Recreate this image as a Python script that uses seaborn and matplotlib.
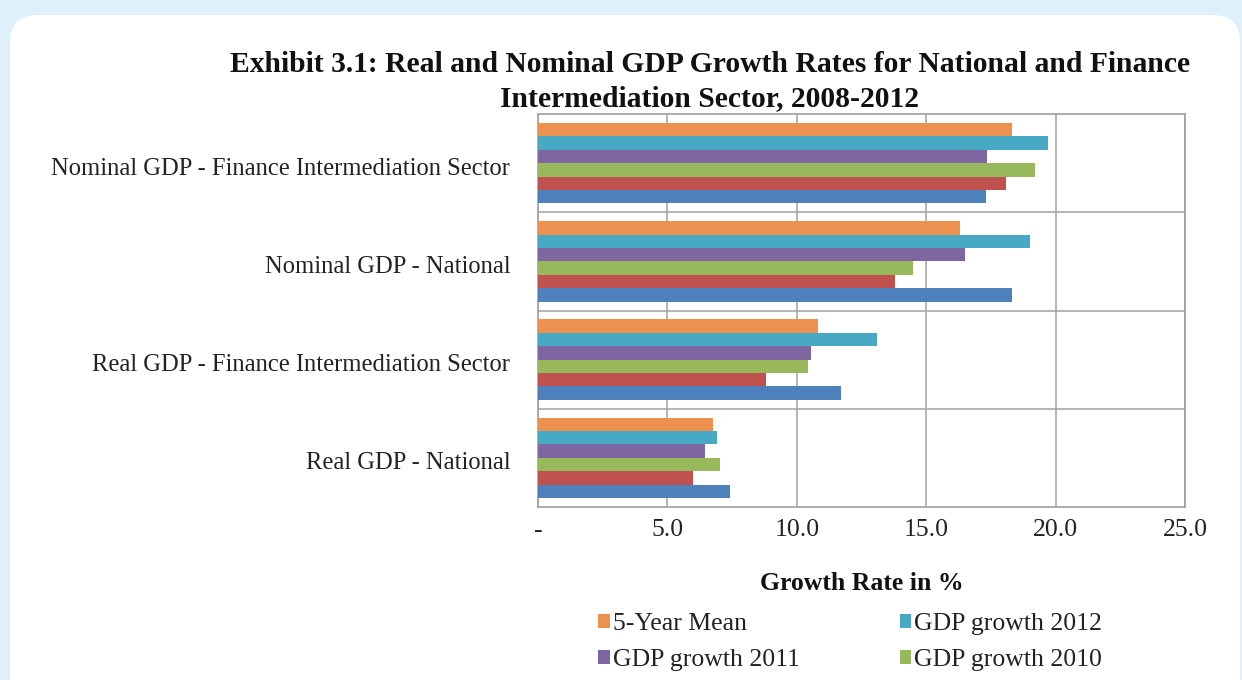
import matplotlib
matplotlib.use("Agg")
import matplotlib.pyplot as plt
import matplotlib.transforms as mtransforms
from matplotlib.patches import FancyBboxPatch, Patch
from matplotlib.ticker import FixedLocator, NullFormatter
import numpy as np
import pandas as pd
import seaborn as sns

# Sectors, top to bottom
categories = [
    "Nominal GDP - Finance Intermediation Sector",
    "Nominal GDP - National",
    "Real GDP - Finance Intermediation Sector",
    "Real GDP - National",
]

# Growth rates in % for each sector (same order as categories)
five_year_mean = [18.3, 16.3, 10.8, 6.75]
growth_2012 = [19.7, 19.0, 13.1, 6.9]
growth_2011 = [17.35, 16.5, 10.55, 6.45]
growth_2010 = [19.2, 14.5, 10.45, 7.05]
growth_2009 = [18.1, 13.8, 8.8, 6.0]
growth_2008 = [17.3, 18.3, 11.7, 7.4]

series_names = ["5-Year Mean", "GDP growth 2012", "GDP growth 2011",
                "GDP growth 2010", "GDP growth 2009", "GDP growth 2008"]
series_colors = ["#EC9150", "#47A9C4", "#7E66A3", "#98B85C", "#BF514E", "#4E80BC"]
# legend entries, filled column by column (row 1: mean, 2012; row 2: 2011, 2010)
legend_shown = ["5-Year Mean", "GDP growth 2011", "GDP growth 2012", "GDP growth 2010"]

x_ticks = [0, 5, 10, 15, 20, 25]
x_tick_labels = ["-", "5.0", "10.0", "15.0", "20.0", "25.0"]

series_values = [five_year_mean, growth_2012, growth_2011,
                 growth_2010, growth_2009, growth_2008]
df = pd.DataFrame(
    [(cat, name, val)
     for name, vals in zip(series_names, series_values)
     for cat, val in zip(categories, vals)],
    columns=["category", "series", "value"],
)

sns.set_style("white")
plt.rcParams["font.family"] = ["Liberation Serif", "DejaVu Serif"]

W, H = 1242, 680
fig = plt.figure(figsize=(W / 100, H / 100), dpi=100)
fig.patch.set_facecolor("#E0F0FA")

# White rounded card behind the chart
card = FancyBboxPatch((10 / W, -40 / H), (1230 / W), (705 / H),
                      boxstyle="round,pad=0,rounding_size=0.022",
                      transform=fig.transFigure, facecolor="white",
                      edgecolor="none", zorder=-5, mutation_aspect=W / H)
fig.patches.append(card)

ax = fig.add_axes([538 / W, 1 - 507 / H, (1185 - 538) / W, (507 - 114) / H])
ax.set_zorder(2)
ax.set_facecolor("white")

sns.barplot(data=df, y="category", x="value", hue="series",
            order=categories, hue_order=series_names,
            palette=series_colors, orient="h", width=0.82,
            saturation=1, errorbar=None, ax=ax, legend=False,
            linewidth=0, zorder=3)

ax.set_xlim(0, 25)
ax.set_ylim(3.5, -0.5)
ax.xaxis.set_major_locator(FixedLocator(x_ticks))
ax.set_xticklabels(x_tick_labels, fontsize=18.5, color="#222222")
ax.yaxis.set_minor_locator(FixedLocator([0.5, 1.5, 2.5]))
ax.yaxis.set_minor_formatter(NullFormatter())
ax.tick_params(axis="y", which="major", length=0, pad=20, labelsize=17.7,
               labelcolor="#222222")
ax.tick_params(axis="y", which="minor", length=6, width=1, color="#999999",
               direction="out")
ax.tick_params(axis="x", which="major", length=6, width=1, color="#999999",
               direction="out", pad=3)

# nudge the category labels slightly down
shift = mtransforms.ScaledTranslation(0, -3 / 100, fig.dpi_scale_trans)
for lbl in ax.get_yticklabels():
    lbl.set_transform(lbl.get_transform() + shift)

ax.grid(axis="x", which="major", color="#A8A8A8", linewidth=1.2, zorder=0)
ax.grid(axis="y", which="minor", color="#A8A8A8", linewidth=1.2, zorder=0)
ax.set_axisbelow(True)
for side in ["left", "right", "top", "bottom"]:
    ax.spines[side].set_visible(True)
    ax.spines[side].set_color("#A0A0A0")
    ax.spines[side].set_linewidth(1.2)

ax.set_ylabel("")
ax.set_xlabel("Growth Rate in %", fontsize=18.5, fontweight="bold",
              color="#111111", labelpad=22)

fig.text(710 / W, 1 - 64 / H,
         "Exhibit 3.1: Real and Nominal GDP Growth Rates for National and Finance",
         ha="center", va="center", fontsize=21.3, fontweight="bold", color="#111111")
fig.text(710 / W, 1 - 99 / H, "Intermediation Sector, 2008-2012",
         ha="center", va="center", fontsize=21.3, fontweight="bold", color="#111111")

color_of = dict(zip(series_names, series_colors))
handles = [Patch(facecolor=color_of[n], edgecolor="none", label=n)
           for n in legend_shown]
fig.legend(handles=handles, ncol=2, loc="upper left",
           bbox_to_anchor=(598 / W, 1 - 613 / H), frameon=False,
           fontsize=18.5, handlelength=0.45, handleheight=0.45,
           handletextpad=0.12, columnspacing=3.9, labelspacing=0.55,
           borderpad=0, borderaxespad=0, labelcolor="#222222")

fig.savefig("out.png", dpi=100, facecolor=fig.get_facecolor())
